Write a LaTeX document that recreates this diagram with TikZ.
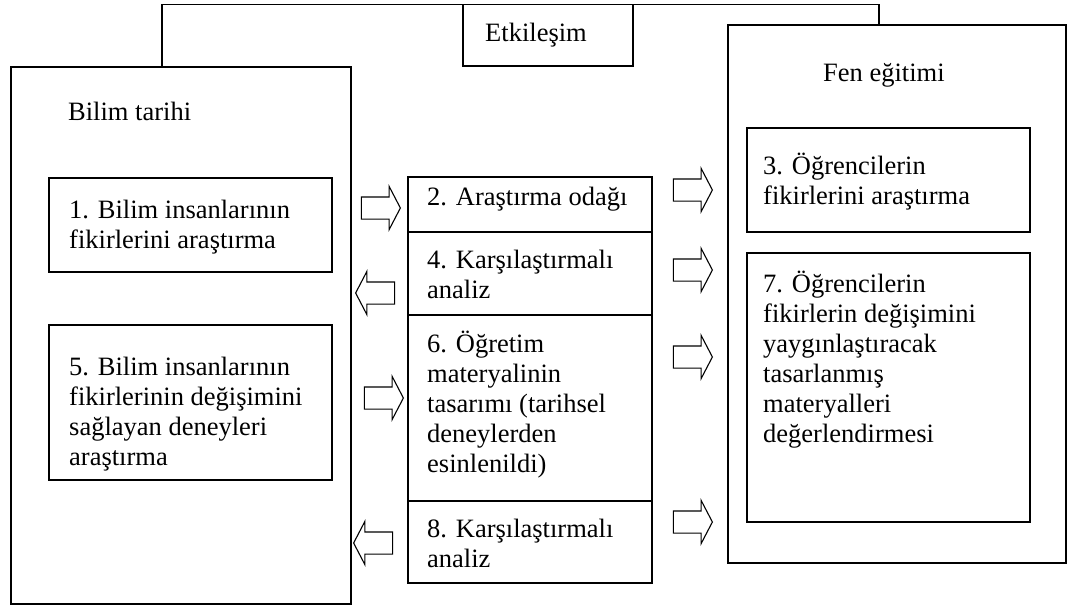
\documentclass[tikz,border=0pt]{standalone}
\usepackage{fontspec}
\setmainfont{Liberation Serif}
\usetikzlibrary{shapes.arrows}
\newcommand{\fz}{\fontsize{26.5}{30}\selectfont}
\newcommand{\ls}{\rule[-6pt]{0pt}{30pt}}
\begin{document}
\begin{tikzpicture}[x=1pt,y=-1pt,
  box/.style={draw, line width=1.4pt, anchor=north west, inner sep=0pt, outer sep=0pt},
  txt/.style={anchor=north west, inner sep=0pt, align=left, font=\fz},
  rarr/.style={single arrow, draw, line width=1.1pt, inner xsep=1pt, inner ysep=10.5pt,
    single arrow head extend=10.5pt, single arrow tip angle=125, minimum height=39pt},
  larr/.style={rarr, shape border rotate=180}]
\useasboundingbox (0,0) rectangle (1067,607);
% big boxes
\node[box, minimum width=340pt, minimum height=537pt] (L) at (11,67) {};
\node[box, minimum width=338pt, minimum height=538pt] (R) at (728,25) {};
\node[box, minimum width=170pt, minimum height=61.5pt] (E) at (463,4.5) {};
\coordinate (tl) at (162,4.5);
\coordinate (tr) at (879,4.5);
\draw[line width=1.4pt] (L.north -| tl) -- (tl) -- (tr) -- (R.north -| tr);
% inner boxes
\node[box, minimum width=283pt, minimum height=94pt] (b1) at (49,178) {};
\node[box, minimum width=283pt, minimum height=155pt] (b5) at (49,325) {};
\node[box, minimum width=244pt, minimum height=55pt] (b2) at (408,177) {};
\node[box, minimum width=244pt, minimum height=83pt] (b4) at (408,232) {};
\node[box, minimum width=244pt, minimum height=186pt] (b6) at (408,315) {};
\node[box, minimum width=244pt, minimum height=82pt] (b8) at (408,501) {};
\node[box, minimum width=283pt, minimum height=104pt] (b3) at (747,128) {};
\node[box, minimum width=283pt, minimum height=269pt] (b7) at (747,253) {};
% texts
\node[txt] (tE) at (485,17) {\ls Etkileşim};
\node[txt] (tL) at (68,96) {\ls Bilim tarihi};
\node[txt] (tR) at (823,57) {\ls Fen eğitimi};
\node[txt] (t1) at (69,194) {\ls 1. Bilim insanlarının\\\ls fikirlerini araştırma};
\node[txt] (t5) at (69,351) {\ls 5. Bilim insanlarının\\\ls fikirlerinin değişimini\\\ls sağlayan deneyleri\\\ls araştırma};
\node[txt] (t2) at (427,181) {\ls 2. Araştırma odağı};
\node[txt] (t4) at (427,244) {\ls 4. Karşılaştırmalı\\\ls analiz};
\node[txt] (t6) at (427,328) {\ls 6. Öğretim\\\ls materyalinin\\\ls tasarımı (tarihsel\\\ls deneylerden\\\ls esinlenildi)};
\node[txt] (t8) at (427,513) {\ls 8. Karşılaştırmalı\\\ls analiz};
\node[txt] (t3) at (763,150) {\ls 3. Öğrencilerin\\\ls fikirlerini araştırma};
\node[txt] (t7) at (763,268) {\ls 7. Öğrencilerin\\\ls fikirlerin değişimini\\\ls yaygınlaştıracak\\\ls tasarlanmış\\\ls materyalleri\\\ls değerlendirmesi};
% block arrows
\node[rarr] (a1) at (378,208) {};
\node[larr] (a2) at (378,293) {};
\node[rarr] (a3) at (381,398) {};
\node[larr] (a4) at (376,543) {};
\node[rarr] (c1) at (690,190) {};
\node[rarr] (c2) at (690,270) {};
\node[rarr] (c3) at (690,357) {};
\node[rarr] (c4) at (690,522) {};
\end{tikzpicture}
\end{document}
